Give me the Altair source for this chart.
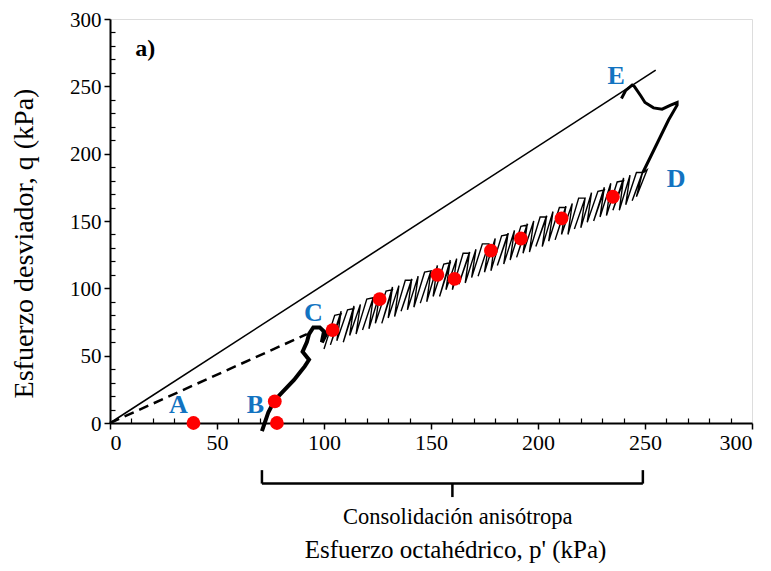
import altair as alt
import pandas as pd

# ---------------- data ----------------
# failure line (solid) and K0 line (dashed)
kf_p = [0, 255]
kf_q = [0, 262]
k0_p = [0, 92]
k0_q = [0, 66]

# thick path B -> C (anisotropic loading)
bc_p = [71, 74, 77, 80, 83, 86, 89, 91, 93, 90, 92, 93, 95, 98, 100, 99, 101, 104]
bc_q = [-6, 8, 17, 22, 27, 32, 38, 42, 47, 53, 60, 66, 71, 71, 68, 60, 66, 70]

# thin jagged cyclic path C -> D
cy_p = [100, 105, 108, 103, 108, 106, 111, 114, 109, 114, 112, 117, 115, 120, 123,
        118, 123, 121, 126, 124, 129, 132, 127, 132, 130, 135, 133, 138, 141,
        136, 141, 139, 144, 142, 147, 150, 145, 150, 148, 153, 151, 156, 159,
        154, 159, 157, 162, 160, 165, 168, 163, 168, 166, 171, 169, 174, 177,
        172, 177, 175, 180, 178, 183, 186, 181, 186, 184, 189, 187, 192, 195,
        190, 195, 193, 198, 196, 201, 204, 199, 204, 202, 207, 205, 210, 213,
        208, 213, 211, 216, 214, 219, 222, 217, 222, 220, 225, 223, 228, 231,
        226, 231, 229, 234, 232, 237, 240, 235, 240, 238, 243, 241, 246, 249,
        244, 249, 246, 251, 249]
cy_q = [55, 80, 81, 58, 83, 61, 84, 85, 60, 87, 65, 88, 66, 92, 93,
        69, 93, 70, 96, 74, 98, 99, 74, 101, 78, 102, 79, 106, 106,
        83, 107, 84, 109, 86, 112, 113, 89, 113, 90, 117, 94, 118, 119,
        94, 121, 99, 122, 99, 126, 126, 103, 127, 104, 129, 108, 133, 133,
        109, 133, 112, 137, 113, 139, 140, 117, 141, 118, 143, 121, 146, 147,
        123, 148, 126, 150, 127, 153, 153, 131, 154, 131, 157, 135, 160, 160,
        136, 161, 140, 163, 140, 167, 167, 144, 167, 145, 171, 149, 172, 173,
        150, 175, 153, 178, 154, 179, 180, 158, 182, 158, 184, 162, 186, 186,
        165, 187, 168, 188, 186]

# thick path D -> E (monotonic loading to failure)
de_p = [249, 253, 257, 261, 265, 265, 262, 258, 254, 250, 248, 245, 244, 241, 239]
de_q = [186, 199, 212, 225, 236, 238, 236, 233, 234, 238, 243, 250, 251, 247, 241]

# red markers
pt_p = [39, 78, 77, 104, 126, 153, 161, 178, 192, 211, 235]
pt_q = [0, 0, 16, 69, 92, 110, 107, 128, 137, 152, 168]

# point labels
lab_text = ["A", "B", "C", "D", "E"]
lab_p = [32, 68, 95, 264.5, 236.5]
lab_q = [13, 13, 82, 181, 258]

# bracket below the axis (consolidation range)
br_p1 = [71, 71, 249, 160]
br_p2 = [249, 71, 249, 160]
br_q1 = [-45, -45, -45, -45]
br_q2 = [-45, -35, -35, -55]
br_text = "Consolidación anisótropa"

major = [0, 50, 100, 150, 200, 250, 300]
minor = [v for v in range(10, 300, 10) if v % 50 != 0]

FONT = "Liberation Serif"
BLUE = "#1273C1"
W, H = 642, 404

def seq(p, q):
    return pd.DataFrame({"p": p, "q": q, "i": list(range(len(p)))})

xs = alt.Scale(domain=[0, 300], nice=False)
ys = alt.Scale(domain=[0, 300], nice=False)

def X(axis=None):
    return alt.X("p:Q", scale=xs, axis=axis)

def Y(axis=None):
    return alt.Y("q:Q", scale=ys, axis=axis)

xaxis = alt.Axis(values=major, title="Esfuerzo octahédrico, p' (kPa)", grid=False,
                 labelFont=FONT, labelFontSize=22, labelColor="black", labelPadding=3,
                 titleFont=FONT, titleFontSize=25, titleFontWeight="normal", titleColor="black",
                 titleX=345, titleY=126, titleAlign="center", titleBaseline="middle",
                 tickSize=6, tickColor="black", tickWidth=1.5,
                 domainColor="black", domainWidth=2)
yaxis = alt.Axis(values=major, title="Esfuerzo desviador, q (kPa)", grid=False,
                 labelFont=FONT, labelFontSize=21, labelColor="black", labelPadding=3,
                 labelOffset=1,
                 titleFont=FONT, titleFontSize=28, titleFontWeight="normal", titleColor="black",
                 titleX=-86, titleY=224, titleAlign="center", titleBaseline="middle", titleAngle=270,
                 tickSize=6, tickColor="black", tickWidth=1.5,
                 domainColor="black", domainWidth=2)

base_axes = alt.Chart(seq(kf_p, kf_q)).mark_line(color="black", strokeWidth=1.6).encode(
    x=X(xaxis), y=Y(yaxis), order="i:Q")

minor_x = alt.Axis(orient="top", offset=-H, values=minor, labels=False, domain=False,
                   grid=False, title=None, tickSize=5, tickColor="black", tickWidth=1.2)
minor_y = alt.Axis(orient="right", offset=-W, values=minor, labels=False, domain=False,
                   grid=False, title=None, tickSize=5, tickColor="black", tickWidth=1.2)
minor_layer = alt.Chart(seq(kf_p, kf_q)).mark_point(opacity=0).encode(
    x=X(minor_x), y=Y(minor_y))

k0 = alt.Chart(seq(k0_p, k0_q)).mark_line(color="black", strokeWidth=2.5, strokeDash=[10, 6]).encode(
    x=X(), y=Y(), order="i:Q")
bc = alt.Chart(seq(bc_p, bc_q)).mark_line(color="black", strokeWidth=4).encode(
    x=X(), y=Y(), order="i:Q")
cy = alt.Chart(seq(cy_p, cy_q)).mark_line(color="black", strokeWidth=1.4).encode(
    x=X(), y=Y(), order="i:Q")
de = alt.Chart(seq(de_p, de_q)).mark_line(color="black", strokeWidth=3).encode(
    x=X(), y=Y(), order="i:Q")
pts = alt.Chart(seq(pt_p, pt_q)).mark_point(filled=True, color="#FF0000", size=190, opacity=1).encode(
    x=X(), y=Y())

labs = alt.Chart(pd.DataFrame({"p": lab_p, "q": lab_q, "t": lab_text})).mark_text(
    font=FONT, fontSize=26, fontWeight="bold", color=BLUE, align="center", baseline="middle"
).encode(x=X(), y=Y(), text="t:N")

panel = alt.Chart(pd.DataFrame({"p": [16.5], "q": [278], "t": ["a)"]})).mark_text(
    font=FONT, fontSize=24, fontWeight="bold", color="black", align="center", baseline="middle"
).encode(x=X(), y=Y(), text="t:N")

br_df = pd.DataFrame({"p": br_p1, "p2": br_p2, "q": br_q1, "q2": br_q2})
bracket = alt.Chart(br_df).mark_rule(color="black", strokeWidth=2.5).encode(
    x=X(), x2="p2:Q", y=Y(), y2="q2:Q")
br_lab = alt.Chart(pd.DataFrame({"p": [162.5], "q": [-70], "t": [br_text]})).mark_text(
    font=FONT, fontSize=22.5, color="black", align="center", baseline="middle"
).encode(x=X(), y=Y(), text="t:N")

chart = alt.layer(base_axes, minor_layer, k0, cy, bc, de, pts, labs, panel, bracket, br_lab).resolve_axis(
    x="independent", y="independent"
).properties(
    width=W, height=H,
    padding={"left": 102, "top": 11, "right": 11, "bottom": 140},
    autosize=alt.AutoSizeParams(type="none"),
).configure_view(stroke="black", strokeWidth=2).configure(background="white")

chart.save("out.html", embed_options={"renderer": "svg", "actions": False})
